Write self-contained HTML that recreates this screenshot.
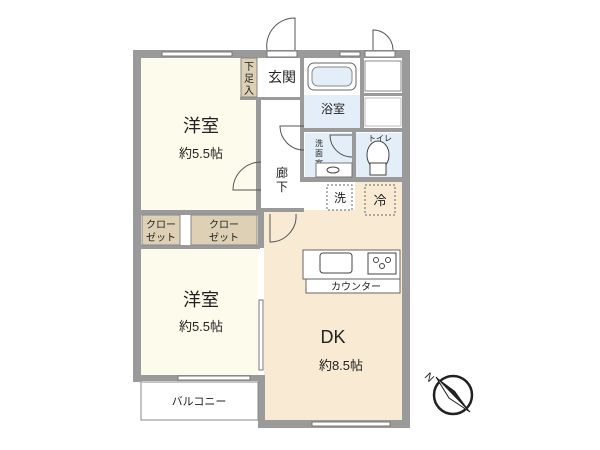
<!DOCTYPE html>
<html><head><meta charset="utf-8"><style>
html,body{margin:0;padding:0;background:#fff;width:600px;height:450px;overflow:hidden}
svg text{font-family:"Liberation Sans","Noto Sans CJK JP",sans-serif;fill:#222}
</style></head><body>
<svg width="600" height="450" viewBox="0 0 600 450" xmlns="http://www.w3.org/2000/svg">
<rect x="140" y="57" width="118" height="153" fill="#fdfbeb"/>
<rect x="140" y="248" width="118" height="128" fill="#fdfbeb"/>
<rect x="264" y="210" width="140" height="212" fill="#f9ead3"/>
<rect x="355" y="180" width="49" height="32" fill="#f9ead3"/>
<rect x="303" y="95" width="60" height="34" fill="#e3eef8"/>
<rect x="305" y="133" width="48" height="45" fill="#e3eef8"/>
<rect x="356" y="133" width="46" height="45" fill="#e3eef8"/>
<g fill="#9a9a9a">
<rect x="133" y="50" width="8" height="332"/>
<rect x="133" y="50" width="277" height="8"/>
<rect x="402" y="50" width="8" height="378"/>
<rect x="258" y="420" width="152" height="8"/>
<rect x="133" y="375" width="130" height="6"/>
<rect x="258" y="375" width="7" height="53"/>
<rect x="256" y="97" width="5" height="118"/>
<rect x="258" y="208" width="6" height="40"/>
<rect x="140" y="210" width="120" height="5"/>
<rect x="140" y="245" width="120" height="4"/>
<rect x="300" y="58" width="4" height="122"/>
<rect x="300" y="177" width="104" height="5"/>
<rect x="360" y="58" width="4" height="72"/>
<rect x="302" y="128" width="102" height="4"/>
<rect x="352" y="130" width="4" height="50"/>
<rect x="362" y="93" width="42" height="3"/>
<rect x="240" y="97" width="64" height="3"/>
<rect x="262" y="208" width="42" height="4"/>
</g>
<g fill="#fff" stroke="#777" stroke-width="1">
<rect x="162" y="52" width="70" height="4"/>
<rect x="267" y="51" width="30" height="6"/>
<rect x="340" y="52" width="20" height="4"/>
<rect x="365" y="51" width="30" height="6"/>
<rect x="178" y="376" width="72" height="4"/>
<rect x="312" y="422" width="78" height="4"/>
<rect x="259" y="300" width="4" height="70"/>
</g>
<g fill="none" stroke="#555" stroke-width="1">
<path d="M295 50 V18 A28 28 0 0 0 267 50"/>
<path d="M373 50 V30 A20 20 0 0 1 393 50"/>
<path d="M261 162 A28 28 0 0 0 233 190 H261"/>
<path d="M304 150 A24 24 0 0 1 280 126 H304"/>
<path d="M352 157 A22 22 0 0 1 330 135 H352"/>
<path d="M270 214 V242 A26 26 0 0 0 296 214"/>
</g>
<rect x="241" y="58" width="16" height="39" fill="#ddd0b5" stroke="#888"/>
<text x="249" y="70" font-size="10" text-anchor="middle">下</text>
<text x="249" y="82" font-size="10" text-anchor="middle">足</text>
<text x="249" y="94" font-size="10" text-anchor="middle">入</text>
<text x="282" y="82" font-size="14" text-anchor="middle">玄関</text>
<rect x="308" y="63" width="48" height="27" rx="6" fill="#fff" stroke="#666"/>
<rect x="312" y="67" width="40" height="19" rx="6" fill="#e3eef8" stroke="#888"/>
<text x="333" y="113" font-size="12" text-anchor="middle">浴室</text>
<rect x="365" y="61" width="36" height="30" fill="#fff" stroke="#888"/>
<rect x="365" y="98" width="36" height="28" fill="#fff" stroke="#bbb"/>
<text x="319" y="146" font-size="8" text-anchor="middle">洗</text>
<text x="319" y="156" font-size="8" text-anchor="middle">面</text>
<text x="319" y="166" font-size="8" text-anchor="middle">室</text>
<rect x="316" y="163" width="36" height="14" fill="#fff" stroke="#777"/>
<ellipse cx="333" cy="170" rx="6" ry="3" fill="none" stroke="#444"/>
<text x="380" y="141" font-size="8" text-anchor="middle">トイレ</text>
<ellipse cx="378" cy="155" rx="11" ry="14" fill="#fff" stroke="#444"/>
<rect x="370" y="163" width="16" height="12" fill="#fff" stroke="#444"/>
<text x="282" y="177" font-size="12" text-anchor="middle">廊</text>
<text x="282" y="191" font-size="12" text-anchor="middle">下</text>
<rect x="327" y="185" width="25" height="25" fill="#fff" stroke="#666" stroke-dasharray="2,2"/>
<text x="340" y="202" font-size="12" text-anchor="middle">洗</text>
<rect x="365" y="185" width="30" height="30" fill="none" stroke="#666" stroke-dasharray="2,2"/>
<text x="380" y="205" font-size="13" text-anchor="middle">冷</text>
<rect x="142" y="215" width="38" height="30" fill="#ddd0b5" stroke="#888"/>
<rect x="191" y="215" width="66" height="30" fill="#ddd0b5" stroke="#888"/>
<text x="161" y="228" font-size="10" text-anchor="middle">クロー</text>
<text x="161" y="241" font-size="10" text-anchor="middle">ゼット</text>
<text x="224" y="228" font-size="10" text-anchor="middle">クロー</text>
<text x="224" y="241" font-size="10" text-anchor="middle">ゼット</text>
<rect x="303" y="250" width="97" height="29" fill="#fff" stroke="#666"/>
<rect x="320" y="253" width="32" height="20" rx="3" fill="#fff" stroke="#444"/>
<rect x="368" y="253" width="28" height="21" fill="#fff" stroke="#444"/>
<circle cx="376" cy="260" r="2.5" fill="none" stroke="#444"/><circle cx="388" cy="260" r="2.5" fill="none" stroke="#444"/><circle cx="382" cy="266" r="2.5" fill="none" stroke="#444"/>
<rect x="306" y="279" width="94" height="14" fill="#fff" stroke="#666"/>
<text x="356" y="290" font-size="10" text-anchor="middle">カウンター</text>
<rect x="141" y="382" width="117" height="38" fill="#fff" stroke="#888"/>
<text x="199" y="405" font-size="11" text-anchor="middle">バルコニー</text>
<text x="201" y="132" font-size="18" text-anchor="middle">洋室</text>
<text x="201" y="158" font-size="13" text-anchor="middle">約5.5帖</text>
<text x="201" y="306" font-size="18" text-anchor="middle">洋室</text>
<text x="201" y="331" font-size="13" text-anchor="middle">約5.5帖</text>
<text x="333" y="343" font-size="18" text-anchor="middle">DK</text>
<text x="341" y="370" font-size="13" text-anchor="middle">約8.5帖</text>
<circle cx="453" cy="395" r="19" fill="#fff" stroke="#222" stroke-width="2.5"/>
<path d="M436 377 L470 412 L455 391 Z" fill="#222"/>
<path d="M436 377 L470 412 L449 398 Z" fill="#fff" stroke="#222"/>
<text x="424" y="377" font-size="11" transform="rotate(45 424 377)">N</text>
</svg>
</body></html>
